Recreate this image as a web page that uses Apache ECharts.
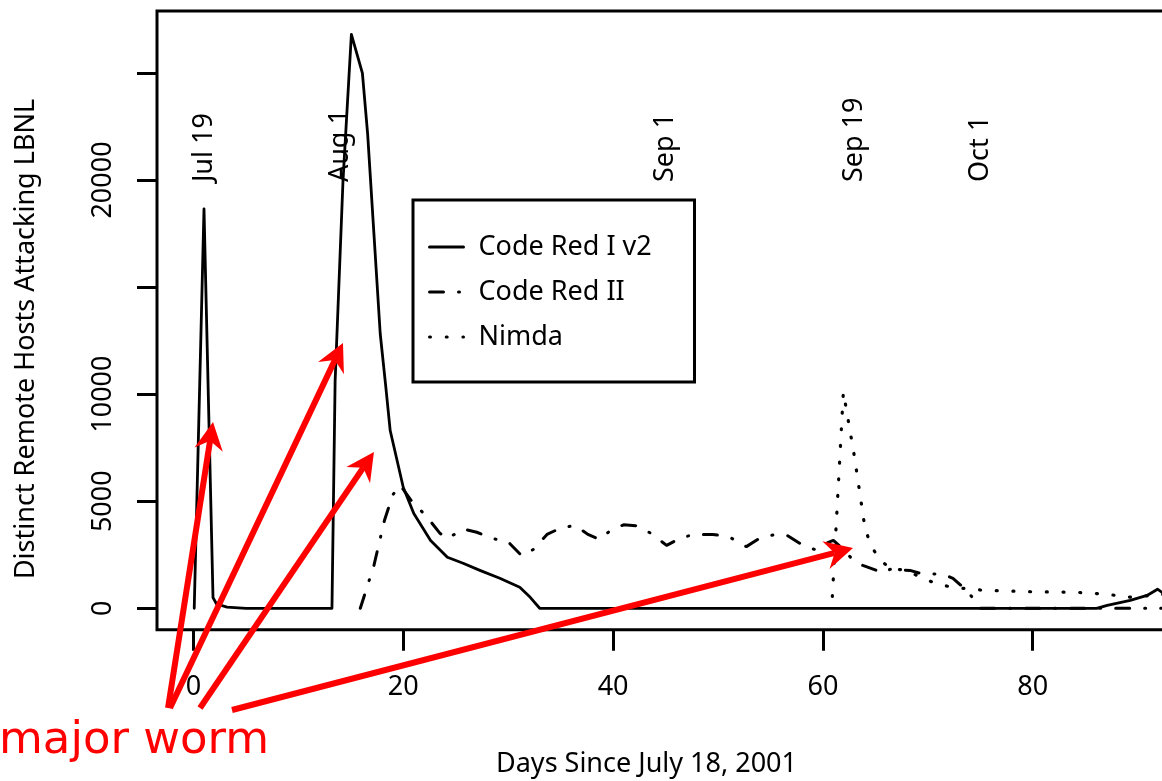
<!DOCTYPE html>
<html><head><meta charset="utf-8">
<script src="https://cdn.jsdelivr.net/npm/echarts@6/dist/echarts.min.js"></script>
<style>html,body{margin:0;padding:0;background:#fff}#c{width:1162px;height:781px}</style>
</head><body><div id="c"></div>
<script>
// ---- data (days since July 18, 2001 ; distinct remote hosts) ----
const seriesNames = ['Code Red I v2', 'Code Red II', 'Nimda'];
const codeRedI = [[0.07,0],[1.0,18650],[1.86,500],[2.2,200],[3.2,50],[5.0,0],[13.2,0],[13.5,10600],[14.25,19950],[15.05,26800],[16.1,24990],[16.6,22150],[17.2,17480],[17.8,12820],[18.3,10490],[18.75,8300],[20.0,5640],[21.0,4430],[22.6,3170],[24.2,2380],[25.7,2100],[27.3,1770],[29.2,1400],[31.1,980],[32.1,510],[33.0,0],[86.1,0],[87.1,140],[89.3,370],[90.9,600],[91.9,890],[92.6,650]];
const codeRedII = [[15.9,0],[17.2,2000],[18.2,4100],[19.0,5300],[19.7,5750],[20.8,5000],[22.2,4300],[23.5,3500],[24.2,3250],[25.7,3700],[27.0,3550],[28.6,3250],[30.0,3100],[31.3,2450],[32.4,2750],[33.7,3450],[35.0,3750],[36.4,3870],[37.6,3450],[38.7,3220],[39.8,3650],[41.0,3900],[42.3,3850],[43.6,3500],[45.1,2940],[46.5,3300],[47.8,3450],[49.5,3450],[51.0,3350],[52.7,2880],[53.9,3250],[55.3,3430],[56.6,3400],[58.1,2940],[59.2,2750],[60.4,3050],[61.0,3170],[61.6,2900],[63.0,2200],[63.8,2000],[65.8,1650],[66.4,1820],[68.3,1770],[69.3,1630],[71.5,1580],[72.4,1400],[73.7,840],[74.7,230],[75.0,0],[93.0,0]];
const nimda = [[60.9,550],[61.95,10100],[63.0,7100],[64.0,3780],[64.5,3030],[65.3,2330],[66.4,1860],[68.0,1770],[69.3,1450],[70.7,1170],[72.3,980],[75.3,840],[80.0,770],[84.0,750],[85.7,700],[87.3,650],[88.9,510],[90.4,560],[92.6,650]];
const xTicks = [0, 20, 40, 60, 80];
const yTicks = [0, 5000, 10000, 15000, 20000, 25000];
const yTickLabels = [0, 5000, 10000, 20000];
const dateLabels = ['Jul 19', 'Aug 1', 'Sep 1', 'Sep 19', 'Oct 1'];
const dateDays = [1, 14, 45, 63, 75];
const dateLabelLevel = 19900;
// annotation arrows: [tail day, tail value, head day, head value]
const arrows = [[-2.43,-4655,1.86,8700],[-2.24,-4655,14.25,12390],[0.62,-4655,17.2,7300],[3.67,-4750,62.87,2810]];
const annotationText = 'major worm';
const xTitle = 'Days Since July 18, 2001';
const yTitle = 'Distinct Remote Hosts Attacking LBNL';

const FONT = '"Noto Sans", sans-serif';
const chart = echarts.init(document.getElementById('c'));
const tickStyle = {color:'#000', width:3};
const option = {
  animation:false,
  backgroundColor:'#fff',
  grid:{left:157, top:11, width:1085.5, height:618.7, show:true, borderColor:'#000', borderWidth:3,
        backgroundColor:'transparent', containLabel:false, outerBoundsMode:'none'},
  xAxis:{type:'value', min:-3.48, max:100, axisLine:{show:false, onZero:false}, splitLine:{show:false},
    axisTick:{show:true, inside:false, length:21, lineStyle:tickStyle, customValues:xTicks},
    axisLabel:{customValues:xTicks, margin:44, color:'#000', fontSize:27, fontFamily:FONT, formatter:v=>String(v)}},
  yAxis:{type:'value', min:-1000, max:27890, axisLine:{show:false, onZero:false}, splitLine:{show:false},
    axisTick:{show:true, inside:false, length:20, lineStyle:tickStyle, customValues:yTicks},
    axisLabel:{customValues:yTickLabels, margin:40, rotate:90, color:'#000', fontSize:27, fontFamily:FONT, formatter:v=>String(v)}},
  legend:{data:seriesNames, orient:'vertical', left:413, top:200, padding:[33.5,40,31.5,15], itemGap:18,
    itemWidth:34, itemHeight:27, borderColor:'#000', borderWidth:3, backgroundColor:'#fff',
    itemStyle:{opacity:0},
    lineStyle:{width:3, cap:'round'},
    textStyle:{fontSize:27, fontFamily:FONT, color:'#000', padding:[0,0,0,10], width:176, lineHeight:27}},
  series:[
    {name:seriesNames[0], type:'line', data:codeRedI, symbol:'none', showSymbol:false, z:3,
     lineStyle:{color:'#000', width:2.8, cap:'round', join:'round'}, itemStyle:{color:'#000'}},
    {name:seriesNames[1], type:'line', data:codeRedII, symbol:'none', showSymbol:false, z:3,
     lineStyle:{color:'#000', width:3, type:[14,15,1,15], cap:'round', join:'round'}, itemStyle:{color:'#000'}},
    {name:seriesNames[2], type:'line', data:nimda, symbol:'none', showSymbol:false, z:3,
     lineStyle:{color:'#000', width:3.2, type:[1,15.7], cap:'round', join:'round'}, itemStyle:{color:'#000'}},
    {name:'dates', type:'scatter', symbolSize:1, itemStyle:{color:'transparent'}, silent:true, z:4,
     data:dateDays.map((d,i)=>({value:[d, dateLabelLevel], name:dateLabels[i]})),
     label:{show:true, formatter:'{b}', rotate:90, position:'inside', align:'left', verticalAlign:'middle',
            fontSize:27, fontFamily:FONT, color:'#000', opacity:1, textBorderWidth:0}}
  ]
};
chart.setOption(option);

function arrowEls(t, h){
  const dx=h[0]-t[0], dy=h[1]-t[1], L=Math.hypot(dx,dy), ux=dx/L, uy=dy/L, nx=-uy, ny=ux;
  const hl=28, hw=14.3, notch=19;
  const np=[h[0]-ux*notch, h[1]-uy*notch];
  return [
    {type:'line', z:100, shape:{x1:t[0], y1:t[1], x2:np[0], y2:np[1]}, style:{stroke:'#ff0000', lineWidth:6}},
    {type:'polygon', z:100, shape:{points:[h,[h[0]-ux*hl+nx*hw, h[1]-uy*hl+ny*hw], np, [h[0]-ux*hl-nx*hw, h[1]-uy*hl-ny*hw]]}, style:{fill:'#ff0000'}}
  ];
}
const g = [];
arrows.forEach(a=>{
  const t = chart.convertToPixel({gridIndex:0}, [a[0], a[1]]);
  const h = chart.convertToPixel({gridIndex:0}, [a[2], a[3]]);
  g.push(...arrowEls(t, h));
});
g.push({type:'text', z:100, x:-1, y:741, style:{text:annotationText, fill:'#ff0000', fontSize:45, fontFamily:'"DejaVu Sans", sans-serif', align:'left', verticalAlign:'middle'}});
g.push({type:'text', z:50, x:646.5, y:764, style:{text:xTitle, fill:'#000', fontSize:27, fontFamily:FONT, align:'center', verticalAlign:'middle'}});
g.push({type:'text', z:50, x:26, y:339, rotation:Math.PI/2, style:{text:yTitle, fill:'#000', fontSize:27, fontFamily:FONT, align:'center', verticalAlign:'middle'}});
chart.setOption({graphic:g});
</script>
</body></html>
